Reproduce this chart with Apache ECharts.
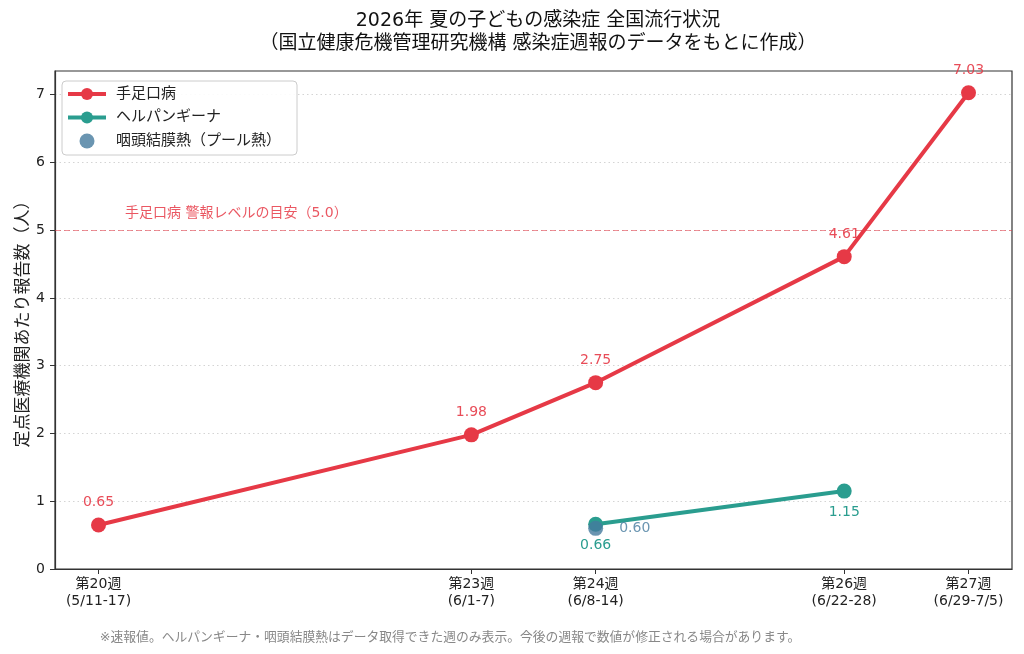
<!DOCTYPE html>
<html>
<head>
<meta charset="utf-8">
<title>2026年 夏の子どもの感染症</title>
<script src="https://cdn.jsdelivr.net/npm/echarts@6/dist/echarts.min.js"></script>
<style>
  html, body { margin: 0; padding: 0; background: #fff; }
  #chart { width: 1024px; height: 654px; }
</style>
</head>
<body>
<div id="chart"></div>
<script>
// 週番号と表示ラベル
const weeks = [20, 23, 24, 26, 27];
const weekRanges = ['5/11-17', '6/1-7', '6/8-14', '6/22-28', '6/29-7/5'];

// 定点当たり報告数
const hfmdWeeks = [20, 23, 24, 26, 27];
const hfmdValues = [0.65, 1.98, 2.75, 4.61, 7.03];
const herpWeeks = [24, 26];
const herpValues = [0.66, 1.15];
const pcfWeeks = [24];
const pcfValues = [0.60];

const alertLevel = 5.0;
const yTicks = [0, 1, 2, 3, 4, 5, 6, 7];

const RED = '#e63946', TEAL = '#2a9d8f', BLUE = '#457b9d';
const FONT = '"DejaVu Sans", "Noto Sans CJK JP", sans-serif';

function pairs(xs, ys) {
  return xs.map((x, i) => [x, ys[i]]);
}

let chart = echarts.init(document.getElementById('chart'));

let option = {
  backgroundColor: '#fff',
  textStyle: { fontFamily: FONT },
  animation: false,
  title: [
    {
      text: '2026年 夏の子どもの感染症 全国流行状況\n（国立健康危機管理研究機構 感染症週報のデータをもとに作成）',
      left: 533, top: 5, textAlign: 'center',
      textStyle: { fontSize: 19, fontWeight: 'normal', color: '#111', lineHeight: 23, fontFamily: FONT }
    },
    {
      text: '※速報値。ヘルパンギーナ・咽頭結膜熱はデータ取得できた週のみ表示。今後の週報で数値が修正される場合があります。',
      left: 445, top: 626, textAlign: 'center',
      textStyle: { fontSize: 12.8, fontWeight: 'normal', color: '#888', fontFamily: FONT }
    }
  ],
  legend: {
    left: 62, top: 81, orient: 'vertical',
    itemWidth: 38, itemHeight: 15, itemGap: 5.5,
    padding: [4, 16, 5, 4],
    borderColor: '#ccc', borderWidth: 1, borderRadius: 4,
    backgroundColor: 'rgba(255,255,255,0.9)',
    textStyle: { fontSize: 15, color: '#222', lineHeight: 18, padding: [0, 0, 0, 5], fontFamily: FONT },
    data: [
      { name: '手足口病', lineStyle: { width: 4 } },
      { name: 'ヘルパンギーナ', lineStyle: { width: 4 } },
      { name: '咽頭結膜熱（プール熱）' }
    ]
  },
  grid: {
    left: 55, right: 12, top: 71, bottom: 85,
    show: true, borderColor: '#333', borderWidth: 1.2
  },
  xAxis: {
    type: 'value', min: 19.65, max: 27.35,
    axisLine: { lineStyle: { color: '#333', width: 1.2 } },
    axisTick: { show: true, customValues: weeks, length: 5, lineStyle: { color: '#333' } },
    splitLine: { show: false },
    axisLabel: {
      customValues: weeks,
      fontSize: 14, color: '#222', lineHeight: 17, margin: 7,
      formatter: v => {
        const i = weeks.indexOf(v);
        return i < 0 ? '' : '第' + v + '週\n(' + weekRanges[i] + ')';
      }
    }
  },
  yAxis: {
    type: 'value', min: 0, max: 7.35,
    name: '定点医療機関あたり報告数（人）',
    nameLocation: 'middle', nameGap: 22.5,
    nameMoveOverlap: false,
    nameTextStyle: { fontSize: 17, color: '#222', fontFamily: FONT },
    axisLine: { show: true, lineStyle: { color: '#333', width: 1.2 } },
    axisTick: { show: true, customValues: yTicks, length: 5, lineStyle: { color: '#333' } },
    axisLabel: { customValues: yTicks, fontSize: 14, color: '#222', margin: 10 },
    splitLine: {
      show: true, customValues: yTicks,
      lineStyle: { color: '#d4d4d4', type: [1.5, 3], width: 1 }
    }
  },
  series: [
    {
      name: '手足口病', type: 'line',
      data: pairs(hfmdWeeks, hfmdValues),
      symbol: 'circle', symbolSize: 15,
      lineStyle: { width: 4, color: RED },
      itemStyle: { color: RED },
      label: {
        show: true, position: 'top', distance: 8,
        color: RED, fontSize: 14, opacity: 0.9,
        formatter: p => p.value[1].toFixed(2)
      },
      markLine: {
        silent: true, symbol: 'none',
        data: [{ yAxis: alertLevel }],
        lineStyle: { color: 'rgba(230,57,70,0.55)', type: [6, 3], width: 1 },
        label: {
          show: true, position: 'insideStartTop',
          distance: [70, 10],
          formatter: '手足口病 警報レベルの目安（5.0）',
          color: 'rgba(230,57,70,0.85)', fontSize: 14, fontFamily: FONT
        }
      },
      z: 3
    },
    {
      name: 'ヘルパンギーナ', type: 'line',
      data: pairs(herpWeeks, herpValues),
      symbol: 'circle', symbolSize: 15,
      lineStyle: { width: 4, color: TEAL },
      itemStyle: { color: TEAL },
      label: {
        show: true, position: 'bottom', distance: 7,
        color: TEAL, fontSize: 14,
        formatter: p => p.value[1].toFixed(2)
      },
      z: 4
    },
    {
      name: '咽頭結膜熱（プール熱）', type: 'scatter',
      data: pairs(pcfWeeks, pcfValues),
      symbol: 'circle', symbolSize: 15,
      itemStyle: { color: BLUE },
      label: {
        show: true, position: 'right', distance: 16,
        color: BLUE, fontSize: 14,
        formatter: p => p.value[1].toFixed(2)
      },
      z: 5
    }
  ]
};

chart.setOption(option);
</script>
</body>
</html>
